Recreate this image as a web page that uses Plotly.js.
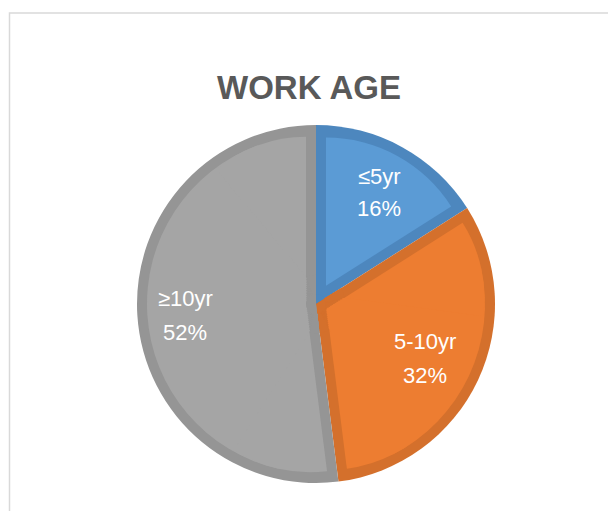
<!DOCTYPE html>
<html>
<head>
<meta charset="utf-8">
<script src="https://cdn.plot.ly/plotly-3.0.1.min.js"></script>
<style>html,body{margin:0;padding:0;background:#fff;}#chart{width:608px;height:511px;}</style>
</head>
<body>
<div id="chart"></div>
<script>
// ---- data ----
const categories = ['≤5yr', '5-10yr', '≥10yr'];
const shares = [16, 32, 52];
const chartTitle = 'WORK AGE';

// ---- style ----
const fillColors = ['#5B9BD5', '#ED7D31', '#A5A5A5'];
const edgeColors = ['#4D87BE', '#D4702C', '#959595'];

const W = 608, H = 511;
const CX = 316, CY = 304, R = 179, B = 10;
const CLEAR = 'rgba(0,0,0,0)';
const DEG = Math.PI / 180;

function dom(half) {
  return {x: [(CX - half) / W, (CX + half) / W], y: [1 - (CY + half) / H, 1 - (CY - half) / H]};
}

const total = shares.reduce((s, v) => s + v, 0);
const traces = [];

// base pie in the darker edge colours
traces.push({
  type: 'pie', values: shares, labels: categories, sort: false,
  direction: 'clockwise', rotation: 0,
  marker: {colors: edgeColors, line: {width: 0}},
  textinfo: 'none', hoverinfo: 'label+percent',
  domain: dom(R), showlegend: false
});

// one sector [f0,f1] (fractions of the circle) of radius `rad`, pulled outward by d px
function sector(f0, f1, color, rad, d) {
  const vals = [], cols = [], pulls = [];
  if (f0 > 1e-9) { vals.push(f0); cols.push(CLEAR); pulls.push(0); }
  const rIn = rad - d;
  vals.push(f1 - f0); cols.push(color); pulls.push(d > 0 ? d / rIn : 0);
  if (1 - f1 > 1e-9) { vals.push(1 - f1); cols.push(CLEAR); pulls.push(0); }
  traces.push({
    type: 'pie', values: vals, sort: false, direction: 'clockwise', rotation: 0,
    marker: {colors: cols, line: {width: 0}}, pull: pulls,
    textinfo: 'none', hoverinfo: 'skip', domain: dom(rad), showlegend: false
  });
}

const wDeg = 40;
const carves = [];
let cum = 0;
shares.forEach((v, i) => {
  const a = cum / total, e = (cum + v) / total;
  cum += v;
  const theta = (e - a) * 360;
  if (theta <= 75) {
    sector(a, e, fillColors[i], R - B, B / Math.sin(theta / 2 * DEG));
  } else {
    const wf = wDeg / 360;
    const dEdge = B / Math.sin(wDeg / 2 * DEG);
    sector(a + wf / 2, e - wf / 2, fillColors[i], R - B, 0);
    sector(a, a + wf, fillColors[i], R - B, dEdge);
    sector(e - wf, e, fillColors[i], R - B, dEdge);
    // staircase of small edge-coloured sectors near the centre, along both radial edges
    const rMax = dEdge, N = 12;
    for (let k = 0; k <= N; k++) {
      const rho = B * Math.pow(rMax / B, k / N);
      const alpha = Math.asin(Math.min(1, B / rho)) / DEG;
      const af = Math.min(alpha, theta) / 360;
      carves.push([a, a + af, edgeColors[i], rho]);
      carves.push([e - af, e, edgeColors[i], rho]);
    }
  }
});
carves.forEach(c => sector(c[0], c[1], c[2], c[3], 0));

// centre cap in edge colours
traces.push({
  type: 'pie', values: shares, sort: false, direction: 'clockwise', rotation: 0,
  marker: {colors: edgeColors, line: {width: 0}},
  textinfo: 'none', hoverinfo: 'skip', domain: dom(B), showlegend: false
});

// label positions (px): [x, yName, yPct]
const labelPos = [[379, 176, 209], [425, 341, 375], [185, 298, 332]];
const labelFont = {family: 'Liberation Sans, Arial, sans-serif', size: 22, color: '#FFFFFF'};
const annotations = [];
categories.forEach((c, i) => {
  const p = labelPos[i];
  annotations.push({xref: 'paper', yref: 'paper', x: p[0] / W, y: 1 - p[1] / H, xanchor: 'center', yanchor: 'middle',
    text: c, showarrow: false, font: labelFont});
  annotations.push({xref: 'paper', yref: 'paper', x: p[0] / W, y: 1 - p[2] / H, xanchor: 'center', yanchor: 'middle',
    text: Math.round(shares[i] / total * 100) + '%', showarrow: false, font: labelFont});
});

const layout = {
  width: W, height: H,
  margin: {l: 0, r: 0, t: 0, b: 0},
  paper_bgcolor: '#FFFFFF',
  showlegend: false,
  title: {text: chartTitle, x: 309 / W, xanchor: 'center', y: 1 - 87 / H, yanchor: 'middle',
    font: {family: 'Liberation Sans, Arial, sans-serif', size: 33, weight: 700, color: '#595959'}},
  shapes: [{type: 'rect', xref: 'paper', yref: 'paper', x0: 9.5 / W, x1: 1.05, y0: -0.05, y1: 1 - 13 / H,
    line: {color: '#D9D9D9', width: 1.5}, fillcolor: CLEAR, layer: 'below'}],
  annotations: annotations
};

Plotly.newPlot('chart', traces, layout, {displayModeBar: false, staticPlot: true});
</script>
</body>
</html>
